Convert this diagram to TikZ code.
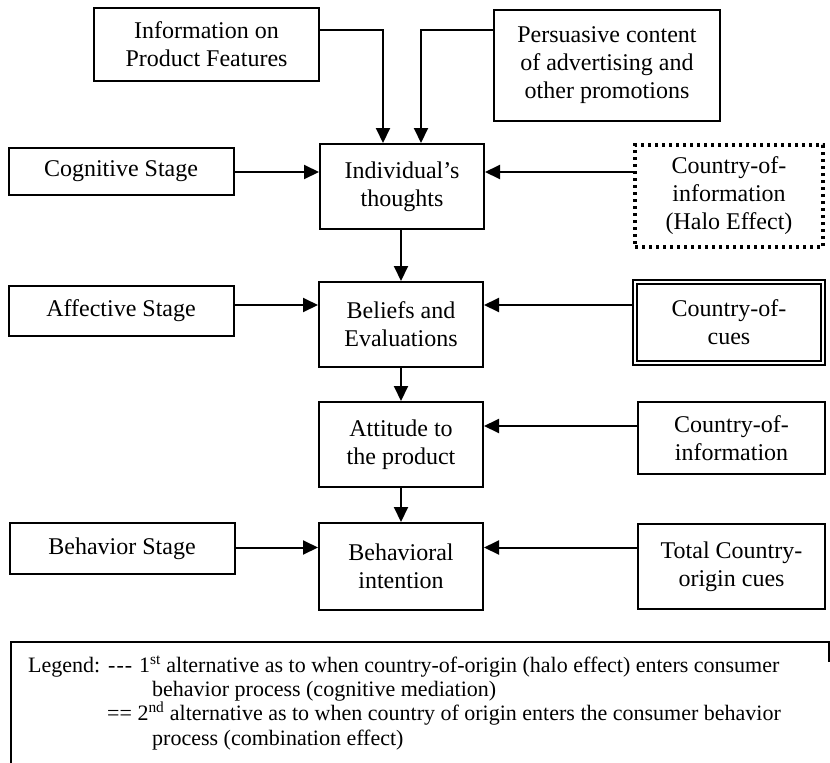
\documentclass[tikz,border=0pt]{standalone}
\usepackage{fontspec}
\setmainfont{Liberation Serif}
\usetikzlibrary{arrows.meta}
\begin{document}
\begin{tikzpicture}[x=1pt,y=-1pt,
  box/.style={draw,line width=2pt,inner sep=0pt,align=center,font=\fontsize{24}{28}\selectfont},
  halobox/.style={box,line width=3.2pt,dash pattern=on 3.2pt off 3.8pt},
  dblbox/.style={box,double,line width=2pt,double distance=2.5pt},
  arr/.style={line width=2pt,-{Triangle[length=15pt,width=14pt]}},
  lg/.style={anchor=base west,inner sep=0pt,font=\fontsize{22}{26}\selectfont}]
\useasboundingbox (0,0) rectangle (830,763);

% top boxes
\node[box,minimum width=225pt,minimum height=73pt] (info) at (206.5,44.5) {Information on\\Product Features};
\node[box,minimum width=226pt,minimum height=111pt] (pers) at (607,65.5) {Persuasive content\\of advertising and\\other promotions};

% central column
\node[box,minimum width=164pt,minimum height=85pt] (ind) at (402,186.5) {Individual’s\\thoughts};
\node[box,minimum width=164pt,minimum height=85pt] (bel) at (401,324.5) {Beliefs and\\Evaluations};
\node[box,minimum width=164pt,minimum height=85pt] (att) at (401,444.5) {Attitude to\\the product};
\node[box,minimum width=164pt,minimum height=87pt] (beh) at (401,566.5) {Behavioral\\intention};

% left column
\node[box,minimum width=225pt,minimum height=47pt] (cog) at (121,171.5) {Cognitive Stage};
\node[box,minimum width=225pt,minimum height=50pt] (aff) at (121,311) {Affective Stage};
\node[box,minimum width=225pt,minimum height=51pt] (bst) at (122,548.5) {Behavior Stage};

% right column
\node[halobox,minimum width=188pt,minimum height=102pt] (halo) at (729,196) {Country-of-\\information\\(Halo Effect)};
\node[dblbox,minimum width=188pt,minimum height=81pt] (cues) at (729,322.5) {Country-of-\\cues};
\node[box,minimum width=187pt,minimum height=72pt] (coi) at (731.5,438) {Country-of-\\information};
\node[box,minimum width=187pt,minimum height=85pt] (tot) at (731.5,566.5) {Total Country-\\origin cues};

% helper coordinates
\coordinate (ya) at (383,30);
\coordinate (yb) at (421,30);
\coordinate (y1) at (0,172);
\coordinate (y2) at (0,305);
\coordinate (y3) at (0,426);
\coordinate (y4) at (0,547.5);

% top connectors
\draw[arr] (info.east |- ya) -| (ya |- ind.north);
\draw[arr] (pers.west |- yb) -| (yb |- ind.north);

% vertical flow
\draw[arr] (ind.south -| bel.north) -- (bel.north);
\draw[arr] (bel.south) -- (att.north);
\draw[arr] (att.south) -- (beh.north);

% left arrows
\draw[arr] (cog.east |- y1) -- (ind.west |- y1);
\draw[arr] (aff.east |- y2) -- (bel.west |- y2);
\draw[arr] (bst.east |- y4) -- (beh.west |- y4);

% right arrows
\draw[arr] (halo.west |- y1) -- (ind.east |- y1);
\draw[arr] (cues.west |- y2) -- (bel.east |- y2);
\draw[arr] (coi.west |- y3) -- (att.east |- y3);
\draw[arr] (tot.west |- y4) -- (beh.east |- y4);

% legend frame
\coordinate (lgtl) at (11,642);
\coordinate (lgtr) at (829,642);
\coordinate (lgbl) at (11,763);
\coordinate (lgrd) at (829,662);
\draw[line width=1.7pt] (lgbl) -- (lgtl) -- (lgtr) -- (lgrd);

% legend text
\node[lg] (lg0) at (28,672) {Legend:};
\node[lg] (lgd) at (108,672) {-\kern1pt-\kern1pt-};
\node[lg] (lg1) at (139,672) {1\textsuperscript{st} alternative as to when country-of-origin (halo effect) enters consumer};
\node[lg] (lg2) at (152,696) {behavior process (cognitive mediation)};
\node[lg] (lg3) at (107,720.5) {== 2\textsuperscript{nd} alternative as to when country of origin enters the consumer behavior};
\node[lg] (lg4) at (152,745) {process (combination effect)};
\end{tikzpicture}
\end{document}
